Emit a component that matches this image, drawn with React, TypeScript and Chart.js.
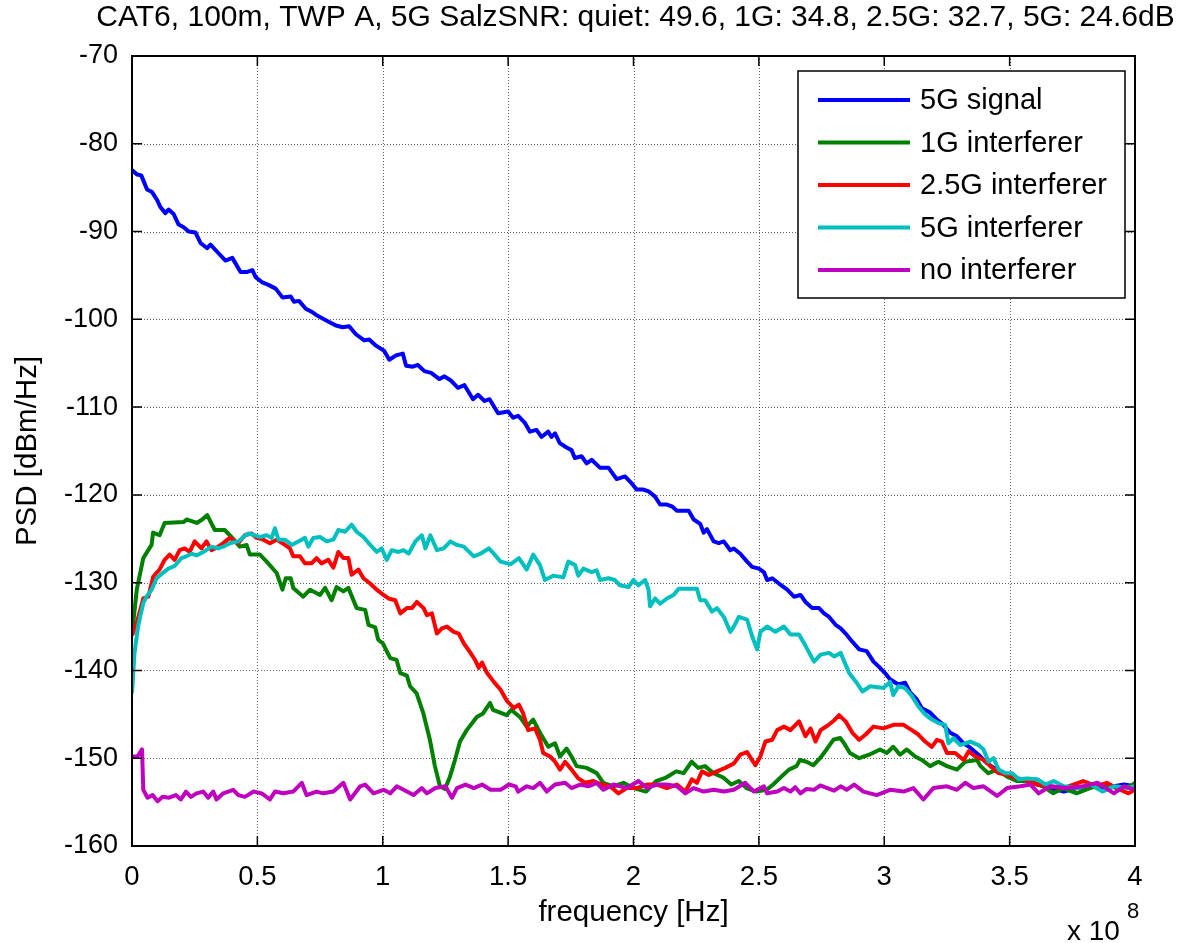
import { useEffect, useRef } from "react";
import { Chart, registerables } from "chart.js";

Chart.register(...registerables);

const WIDTH = 1182;
const HEIGHT = 943;
const FONT = "'Liberation Sans', Arial, Helvetica, sans-serif";

const titleText =
  "CAT6, 100m, TWP A, 5G SalzSNR: quiet: 49.6, 1G: 34.8, 2.5G: 32.7, 5G: 24.6dB";
const xAxisLabel = "frequency [Hz]";
const yAxisLabel = "PSD [dBm/Hz]";
const xExponent = "8";

// axis limits and tick steps (frequency in units of 1e8 Hz)
const xRange = [0, 4];
const xStep = 0.5;
const yRange = [-160, -70];
const yStep = 10;

const seriesLabels = ["5G signal", "1G interferer", "2.5G interferer", "5G interferer", "no interferer"];
const seriesColors = ["#0000ff", "#008000", "#ff0000", "#00bfbf", "#bf00bf"];

// 5G signal
const signalFreq = [
  0.0, 0.02, 0.037, 0.06, 0.08, 0.1, 0.113, 0.133, 0.146, 0.166, 0.186, 0.206, 0.226, 0.253, 0.273, 0.3,
  0.313, 0.346, 0.373, 0.4, 0.433, 0.46, 0.48, 0.493, 0.52, 0.546, 0.573, 0.6, 0.633, 0.646, 0.666, 0.693,
  0.72, 0.74, 0.773, 0.813, 0.84, 0.866, 0.893, 0.926, 0.946, 0.973, 1.006, 1.026, 1.053, 1.08, 1.093, 1.12,
  1.14, 1.166, 1.193, 1.226, 1.246, 1.273, 1.3, 1.326, 1.36, 1.38, 1.406, 1.426, 1.46, 1.5, 1.52, 1.54,
  1.567, 1.587, 1.613, 1.633, 1.66, 1.673, 1.687, 1.706, 1.733, 1.753, 1.766, 1.793, 1.813, 1.833, 1.866, 1.9,
  1.933, 1.966, 1.993, 2.013, 2.04, 2.06, 2.086, 2.106, 2.133, 2.153, 2.173, 2.2, 2.22, 2.24, 2.266, 2.28,
  2.293, 2.32, 2.34, 2.36, 2.386, 2.4, 2.426, 2.453, 2.473, 2.5, 2.52, 2.533, 2.553, 2.58, 2.613, 2.64,
  2.666, 2.686, 2.713, 2.74, 2.76, 2.78, 2.806, 2.826, 2.846, 2.866, 2.9, 2.93, 2.957, 2.983, 3.003, 3.023,
  3.056, 3.083, 3.103, 3.13, 3.15, 3.183, 3.21, 3.236, 3.263, 3.29, 3.316, 3.343, 3.376, 3.403, 3.436, 3.476,
  3.516, 3.556, 3.61, 3.663, 3.716, 3.77, 3.823, 3.876, 3.956, 4.0,
];
const signalPsd = [
  -83.0, -83.5, -83.6, -85.2, -85.5, -86.4, -87.2, -87.9, -87.5, -88.0, -89.2, -89.5, -90.0, -90.1, -91.3, -91.9,
  -91.5, -92.5, -93.3, -93.0, -94.6, -94.6, -94.4, -95.2, -95.8, -96.1, -96.5, -97.5, -97.4, -98.0, -97.9, -98.8,
  -99.2, -99.6, -100.1, -100.7, -100.9, -100.8, -101.7, -102.4, -102.3, -103.0, -103.6, -104.6, -104.1, -103.9, -105.3, -105.4,
  -105.2, -105.9, -106.1, -106.8, -106.5, -107.0, -107.8, -107.5, -109.1, -108.6, -109.3, -109.1, -110.7, -110.5, -111.2, -111.0,
  -111.8, -112.8, -112.6, -113.4, -112.8, -113.4, -113.0, -114.1, -114.6, -114.9, -115.8, -115.6, -116.4, -116.0, -116.9, -116.9,
  -118.2, -117.9, -118.7, -119.4, -119.4, -119.6, -120.2, -121.1, -121.1, -121.3, -121.8, -121.8, -121.8, -122.8, -123.3, -124.3,
  -123.9, -125.3, -125.5, -125.3, -126.3, -126.1, -126.7, -127.6, -128.2, -128.4, -128.8, -129.7, -129.5, -130.1, -130.8, -131.6,
  -131.4, -132.2, -132.9, -132.9, -133.5, -133.9, -134.8, -135.2, -135.8, -136.5, -137.6, -137.8, -139.0, -139.7, -140.3, -141.0,
  -141.6, -141.4, -142.5, -143.3, -144.3, -144.8, -145.6, -146.2, -147.1, -147.5, -148.3, -148.8, -149.6, -150.4, -151.1, -151.7,
  -152.3, -152.4, -153.0, -153.4, -153.8, -153.4, -153.2, -153.4, -153.0, -153.2,
];

// 1G interferer
const gig1Freq = [
  0.0, 0.019, 0.045, 0.078, 0.084, 0.11, 0.13, 0.205, 0.218, 0.258, 0.28, 0.3, 0.33, 0.37, 0.4, 0.43,
  0.457, 0.47, 0.51, 0.537, 0.577, 0.6, 0.613, 0.633, 0.643, 0.683, 0.71, 0.75, 0.77, 0.796, 0.816, 0.843,
  0.863, 0.896, 0.93, 0.943, 0.97, 0.982, 1.0, 1.03, 1.055, 1.07, 1.096, 1.109, 1.135, 1.162, 1.188, 1.208,
  1.228, 1.248, 1.268, 1.288, 1.308, 1.335, 1.375, 1.4, 1.428, 1.44, 1.494, 1.513, 1.547, 1.574, 1.6, 1.627,
  1.66, 1.687, 1.707, 1.733, 1.753, 1.773, 1.813, 1.853, 1.88, 1.92, 1.96, 2.0, 2.05, 2.09, 2.13, 2.17,
  2.2, 2.232, 2.258, 2.285, 2.318, 2.358, 2.39, 2.42, 2.45, 2.49, 2.53, 2.557, 2.597, 2.62, 2.65, 2.664,
  2.69, 2.717, 2.744, 2.77, 2.797, 2.824, 2.84, 2.863, 2.9, 2.94, 2.983, 3.01, 3.036, 3.063, 3.09, 3.123,
  3.15, 3.183, 3.216, 3.25, 3.29, 3.323, 3.37, 3.384, 3.415, 3.45, 3.49, 3.53, 3.583, 3.634, 3.674, 3.714,
  3.767, 3.82, 3.874, 3.927, 3.98, 4.0,
];
const gig1Psd = [
  -135.9, -130.8, -127.2, -125.7, -124.3, -124.6, -123.2, -123.1, -122.8, -123.2, -122.8, -122.3, -124.0, -124.0, -124.9, -125.9,
  -125.7, -126.8, -126.8, -127.6, -128.9, -130.8, -129.5, -129.5, -130.6, -131.6, -130.8, -131.4, -130.6, -132.0, -130.5, -131.0,
  -130.6, -132.9, -133.1, -134.8, -135.1, -136.5, -136.9, -138.6, -138.8, -140.3, -140.6, -141.8, -142.6, -144.9, -147.9, -150.9,
  -153.2, -153.5, -152.1, -150.2, -148.1, -146.8, -145.3, -144.9, -143.7, -144.5, -145.1, -144.5, -145.3, -146.4, -145.6, -147.1,
  -148.7, -148.3, -149.8, -148.9, -149.8, -150.9, -151.1, -151.7, -152.8, -153.2, -152.8, -153.4, -153.8, -152.6, -152.2, -151.5,
  -151.7, -150.4, -151.1, -150.9, -151.7, -152.2, -153.0, -152.6, -153.4, -153.8, -153.6, -153.0, -151.9, -151.3, -150.9, -150.2,
  -150.4, -150.8, -150.0, -149.0, -147.9, -147.7, -148.3, -149.4, -150.0, -149.6, -149.0, -149.4, -148.7, -149.6, -149.0, -149.8,
  -150.2, -150.9, -150.4, -150.9, -151.3, -150.4, -150.2, -150.9, -151.7, -151.3, -152.1, -152.6, -152.6, -153.2, -154.0, -153.4,
  -154.0, -153.4, -153.0, -153.4, -153.2, -152.8,
];

// 2.5G interferer
const gig25Freq = [
  0.0, 0.019, 0.045, 0.065, 0.085, 0.11, 0.13, 0.15, 0.17, 0.19, 0.21, 0.23, 0.25, 0.277, 0.297, 0.317,
  0.344, 0.364, 0.39, 0.424, 0.45, 0.477, 0.497, 0.524, 0.55, 0.577, 0.61, 0.63, 0.643, 0.67, 0.69, 0.716,
  0.736, 0.756, 0.783, 0.803, 0.823, 0.843, 0.863, 0.876, 0.903, 0.923, 0.95, 0.976, 1.003, 1.023, 1.05, 1.07,
  1.096, 1.116, 1.136, 1.163, 1.176, 1.196, 1.216, 1.236, 1.256, 1.283, 1.303, 1.323, 1.35, 1.37, 1.383, 1.396,
  1.416, 1.443, 1.47, 1.496, 1.523, 1.543, 1.56, 1.58, 1.607, 1.627, 1.64, 1.667, 1.687, 1.707, 1.727, 1.753,
  1.78, 1.807, 1.84, 1.873, 1.906, 1.94, 1.973, 2.013, 2.053, 2.093, 2.133, 2.173, 2.207, 2.233, 2.253, 2.273,
  2.3, 2.333, 2.366, 2.4, 2.426, 2.453, 2.486, 2.506, 2.526, 2.553, 2.573, 2.6, 2.626, 2.66, 2.686, 2.706,
  2.726, 2.746, 2.773, 2.8, 2.82, 2.846, 2.873, 2.9, 2.926, 2.957, 2.997, 3.037, 3.077, 3.11, 3.136, 3.163,
  3.19, 3.21, 3.23, 3.25, 3.283, 3.317, 3.337, 3.363, 3.397, 3.423, 3.456, 3.49, 3.53, 3.556, 3.61, 3.66,
  3.714, 3.794, 3.847, 3.887, 3.927, 3.974, 4.0,
];
const gig25Psd = [
  -136.0, -134.6, -131.8, -131.6, -129.3, -128.5, -127.4, -126.8, -127.4, -126.3, -126.1, -126.5, -125.3, -126.1, -125.3, -126.3,
  -125.9, -125.5, -124.9, -125.5, -124.6, -124.4, -124.9, -125.1, -125.5, -125.1, -125.7, -126.1, -127.0, -127.0, -127.8, -127.8,
  -127.2, -127.8, -127.4, -128.3, -126.5, -127.2, -127.2, -129.1, -128.5, -129.5, -130.1, -130.8, -131.4, -131.8, -132.0, -133.5,
  -132.9, -132.9, -132.2, -132.9, -133.7, -133.5, -135.8, -135.2, -135.0, -135.6, -135.8, -136.9, -138.0, -138.9, -139.7, -139.1,
  -140.3, -141.3, -142.2, -143.5, -144.3, -143.9, -144.9, -146.8, -146.6, -147.9, -149.4, -149.8, -150.4, -151.3, -150.4, -151.3,
  -152.3, -152.8, -152.6, -153.0, -153.2, -154.0, -153.4, -153.4, -153.0, -153.0, -153.4, -153.0, -153.8, -152.4, -152.8, -151.5,
  -151.9, -151.5, -151.1, -150.6, -149.6, -149.3, -150.8, -149.8, -148.1, -147.9, -146.8, -146.4, -146.8, -145.8, -147.5, -146.6,
  -148.1, -146.8, -146.3, -145.7, -145.1, -145.8, -147.1, -147.9, -147.3, -146.4, -146.6, -146.2, -146.2, -146.8, -147.3, -148.1,
  -148.7, -147.9, -148.1, -149.4, -149.4, -150.2, -149.2, -149.8, -150.2, -150.9, -151.7, -151.9, -152.3, -152.4, -153.0, -153.2,
  -153.4, -152.6, -153.2, -152.8, -153.4, -154.0, -153.6,
];

// 5G interferer
const gig5Freq = [
  0.0, 0.01, 0.024, 0.045, 0.058, 0.078, 0.098, 0.118, 0.145, 0.17, 0.197, 0.217, 0.237, 0.257, 0.284, 0.317,
  0.344, 0.364, 0.39, 0.424, 0.444, 0.464, 0.49, 0.51, 0.537, 0.557, 0.57, 0.584, 0.61, 0.637, 0.663, 0.69,
  0.703, 0.723, 0.75, 0.776, 0.803, 0.823, 0.85, 0.876, 0.896, 0.923, 0.95, 0.976, 0.996, 1.016, 1.036, 1.063,
  1.083, 1.103, 1.13, 1.156, 1.17, 1.19, 1.216, 1.243, 1.27, 1.296, 1.323, 1.363, 1.39, 1.423, 1.443, 1.47,
  1.51, 1.543, 1.574, 1.6, 1.627, 1.647, 1.68, 1.72, 1.74, 1.767, 1.78, 1.8, 1.833, 1.853, 1.867, 1.9,
  1.926, 1.946, 1.98, 2.0, 2.02, 2.046, 2.06, 2.066, 2.086, 2.106, 2.133, 2.16, 2.18, 2.213, 2.253, 2.266,
  2.286, 2.313, 2.333, 2.36, 2.386, 2.4, 2.42, 2.453, 2.473, 2.493, 2.506, 2.533, 2.566, 2.6, 2.626, 2.66,
  2.686, 2.72, 2.746, 2.78, 2.8, 2.826, 2.86, 2.89, 2.913, 2.944, 2.997, 3.023, 3.036, 3.056, 3.083, 3.11,
  3.136, 3.163, 3.19, 3.216, 3.243, 3.256, 3.276, 3.303, 3.343, 3.376, 3.396, 3.416, 3.436, 3.456, 3.483, 3.51,
  3.536, 3.57, 3.61, 3.643, 3.676, 3.716, 3.77, 3.823, 3.87, 3.916, 3.97, 4.0,
];
const gig5Psd = [
  -142.6, -138.0, -135.0, -132.3, -131.6, -130.8, -129.5, -129.0, -128.4, -128.1, -127.2, -127.0, -126.7, -126.9, -126.5, -125.9,
  -126.1, -125.9, -125.5, -125.3, -124.8, -124.4, -124.6, -124.8, -124.6, -124.9, -123.8, -125.1, -125.1, -125.7, -125.3, -124.9,
  -125.9, -124.9, -124.8, -125.3, -125.1, -124.0, -124.2, -123.4, -124.2, -124.8, -125.7, -126.5, -126.1, -127.4, -126.3, -126.5,
  -126.3, -126.7, -125.3, -124.6, -126.1, -124.6, -126.3, -126.1, -125.3, -125.7, -125.9, -127.0, -126.7, -126.1, -126.7, -127.6,
  -127.9, -127.2, -128.5, -126.8, -128.0, -129.7, -129.2, -129.4, -127.6, -128.0, -129.2, -128.4, -128.8, -128.6, -129.7, -129.5,
  -129.7, -130.3, -130.5, -129.7, -130.3, -129.7, -130.8, -132.7, -131.8, -132.4, -131.8, -131.4, -130.7, -130.7, -130.7, -132.0,
  -132.0, -133.3, -132.9, -133.9, -135.6, -135.0, -133.9, -134.2, -136.1, -137.6, -135.6, -135.0, -135.6, -135.0, -135.9, -135.9,
  -137.2, -139.0, -138.2, -138.0, -138.4, -138.0, -140.3, -141.4, -142.4, -141.8, -142.0, -141.3, -142.8, -141.8, -142.0, -142.9,
  -144.1, -145.0, -145.6, -146.0, -146.2, -148.3, -147.7, -148.5, -148.1, -148.5, -149.0, -150.4, -150.0, -151.3, -151.7, -151.7,
  -152.4, -152.3, -152.4, -153.0, -152.6, -153.2, -153.4, -153.0, -153.8, -153.2, -153.4, -153.2,
];

// no interferer
const quietFreq = [
  0.0, 0.022, 0.04, 0.045, 0.062, 0.082, 0.102, 0.122, 0.148, 0.175, 0.195, 0.215, 0.235, 0.257, 0.284, 0.304,
  0.324, 0.337, 0.364, 0.404, 0.424, 0.45, 0.484, 0.517, 0.55, 0.57, 0.604, 0.643, 0.677, 0.696, 0.736, 0.763,
  0.803, 0.843, 0.87, 0.91, 0.93, 0.963, 1.003, 1.03, 1.056, 1.083, 1.123, 1.156, 1.176, 1.21, 1.25, 1.276,
  1.296, 1.33, 1.363, 1.396, 1.43, 1.47, 1.503, 1.53, 1.54, 1.574, 1.6, 1.627, 1.654, 1.687, 1.727, 1.753,
  1.787, 1.82, 1.853, 1.88, 1.92, 1.973, 2.02, 2.053, 2.093, 2.133, 2.173, 2.207, 2.24, 2.28, 2.32, 2.36,
  2.4, 2.446, 2.48, 2.52, 2.533, 2.573, 2.6, 2.626, 2.645, 2.666, 2.69, 2.72, 2.745, 2.773, 2.8, 2.826,
  2.85, 2.88, 2.917, 2.97, 3.023, 3.077,
  3.116, 3.156, 3.196, 3.25, 3.29, 3.323, 3.356, 3.396, 3.45, 3.49, 3.543, 3.583, 3.616, 3.663, 3.73, 3.796,
  3.85, 3.916, 3.956, 4.0,
];
const quietPsd = [
  -149.8, -149.8, -149.0, -153.6, -154.5, -154.2, -154.9, -154.4, -154.5, -154.2, -154.7, -153.8, -154.4, -154.0, -153.8, -154.5,
  -153.8, -154.7, -154.0, -153.6, -154.2, -154.4, -153.8, -154.0, -154.7, -153.8, -154.0, -153.8, -152.8, -154.2, -153.8, -154.0,
  -153.8, -152.8, -154.7, -153.2, -153.0, -154.0, -153.6, -154.0, -153.2, -153.6, -154.2, -153.4, -154.0, -153.4, -153.2, -154.5,
  -153.4, -153.0, -153.4, -153.0, -153.6, -153.6, -153.0, -153.2, -153.8, -153.2, -153.4, -152.8, -153.8, -153.0, -152.8, -153.4,
  -153.0, -153.2, -152.8, -153.6, -153.0, -153.4, -152.6, -153.4, -153.0, -153.0, -153.2, -154.0, -153.4, -153.8, -153.6, -153.8,
  -153.6, -152.8, -153.8, -153.2, -154.0, -153.8, -153.4, -153.8, -153.3, -154.0, -153.5, -153.6, -153.1, -153.4, -153.7, -153.2,
  -153.6, -153.0, -153.8, -154.2, -153.6, -153.8,
  -153.4, -154.7, -153.4, -153.2, -153.6, -152.8, -153.4, -153.2, -154.3, -153.4, -153.2, -153.0, -154.0, -153.2, -153.4, -153.2,
  -152.8, -154.0, -153.2, -153.6,
];

const seriesFreq = [signalFreq, gig1Freq, gig25Freq, gig5Freq, quietFreq];
const seriesPsd = [signalPsd, gig1Psd, gig25Psd, gig5Psd, quietPsd];

function toPoints(xs: number[], ys: number[]) {
  return xs.map((x, i) => ({ x, y: ys[i] }));
}

// title centred over the plot box, allowed to run wider than it
const titlePlugin = {
  id: "plotTitle",
  afterDraw(chart: any) {
    const { ctx, chartArea: a } = chart;
    ctx.save();
    ctx.fillStyle = "#000";
    ctx.font = `30px ${FONT}`;
    ctx.textAlign = "center";
    ctx.textBaseline = "middle";
    ctx.fillText(titleText, (a.left + a.right) / 2 + 2, 18);
    ctx.restore();
  },
};

// dotted grid at the interior ticks, drawn under the curves
const gridPlugin = {
  id: "dottedGrid",
  beforeDatasetsDraw(chart: any) {
    const { ctx, chartArea: a, scales } = chart;
    const xs = scales.x;
    const ys = scales.y;
    ctx.save();
    ctx.strokeStyle = "rgba(0,0,0,0.62)";
    ctx.lineWidth = 1;
    ctx.setLineDash([1, 2]);
    for (const t of xs.ticks) {
      const px = Math.round(xs.getPixelForValue(t.value)) + 0.5;
      if (px < a.left + 2 || px > a.right - 2) continue;
      ctx.beginPath();
      ctx.moveTo(px, a.top);
      ctx.lineTo(px, a.bottom);
      ctx.stroke();
    }
    for (const t of ys.ticks) {
      const py = Math.round(ys.getPixelForValue(t.value)) + 0.5;
      if (py < a.top + 2 || py > a.bottom - 2) continue;
      ctx.beginPath();
      ctx.moveTo(a.left, py);
      ctx.lineTo(a.right, py);
      ctx.stroke();
    }
    ctx.restore();
  },
};

// boxed axes with inward tick marks on all four sides
const framePlugin = {
  id: "boxFrame",
  afterDatasetsDraw(chart: any) {
    const { ctx, chartArea: a, scales } = chart;
    const xs = scales.x;
    const ys = scales.y;
    const len = 10;
    ctx.save();
    ctx.strokeStyle = "#000";
    ctx.lineWidth = 1.5;
    ctx.setLineDash([]);
    for (const t of xs.ticks) {
      const px = xs.getPixelForValue(t.value);
      ctx.beginPath();
      ctx.moveTo(px, a.bottom);
      ctx.lineTo(px, a.bottom - len);
      ctx.moveTo(px, a.top);
      ctx.lineTo(px, a.top + len);
      ctx.stroke();
    }
    for (const t of ys.ticks) {
      const py = ys.getPixelForValue(t.value);
      ctx.beginPath();
      ctx.moveTo(a.left, py);
      ctx.lineTo(a.left + len, py);
      ctx.moveTo(a.right, py);
      ctx.lineTo(a.right - len, py);
      ctx.stroke();
    }
    ctx.lineWidth = 2;
    ctx.strokeRect(a.left, a.top, a.right - a.left, a.bottom - a.top);
    ctx.restore();
  },
};

// boxed legend in the upper right corner of the plot
const legendPlugin = {
  id: "boxLegend",
  afterDraw(chart: any) {
    const { ctx, chartArea: a } = chart;
    const boxW = 327;
    const boxH = 227;
    const left = a.right - 337;
    const top = a.top + 15;
    ctx.save();
    ctx.fillStyle = "#fff";
    ctx.fillRect(left, top, boxW, boxH);
    ctx.strokeStyle = "#000";
    ctx.lineWidth = 1.5;
    ctx.strokeRect(left, top, boxW, boxH);
    ctx.font = `29px ${FONT}`;
    ctx.textBaseline = "middle";
    ctx.textAlign = "left";
    chart.data.datasets.forEach((ds: any, i: number) => {
      const y = top + 29 + i * 42.5;
      ctx.strokeStyle = ds.borderColor;
      ctx.lineWidth = 4;
      ctx.beginPath();
      ctx.moveTo(left + 20, y);
      ctx.lineTo(left + 112, y);
      ctx.stroke();
      ctx.fillStyle = "#000";
      ctx.fillText(ds.label, left + 122, y + 1);
    });
    ctx.restore();
  },
};

// "x 10^8" multiplier under the right end of the frequency axis
const exponentPlugin = {
  id: "axisExponent",
  afterDraw(chart: any) {
    const { ctx, chartArea: a } = chart;
    ctx.save();
    ctx.fillStyle = "#000";
    ctx.textBaseline = "middle";
    ctx.textAlign = "left";
    ctx.font = `28px ${FONT}`;
    ctx.fillText("x 10", a.right - 68, a.bottom + 86);
    ctx.font = `22px ${FONT}`;
    ctx.fillText(xExponent, a.right - 8, a.bottom + 66);
    ctx.restore();
  },
};

export default function App() {
  const canvasRef = useRef<HTMLCanvasElement | null>(null);

  useEffect(() => {
    if (!canvasRef.current) return;
    const datasets = seriesLabels.map((label, i) => ({
      label,
      data: toPoints(seriesFreq[i], seriesPsd[i]),
      borderColor: seriesColors[i],
      backgroundColor: seriesColors[i],
      borderWidth: 4,
      pointRadius: 0,
      tension: 0,
      fill: false,
      borderJoinStyle: "round" as const,
      order: seriesLabels.length - i,
    }));

    const chart = new Chart(canvasRef.current, {
      type: "line",
      data: { datasets },
      options: {
        animation: false,
        responsive: false,
        maintainAspectRatio: false,
        layout: { padding: { left: 0, right: 47, top: 56, bottom: 0 } },
        plugins: {
          legend: { display: false },
          tooltip: { enabled: false },
          title: { display: false },
        },
        scales: {
          x: {
            type: "linear",
            min: xRange[0],
            max: xRange[1],
            afterFit: (scale: any) => {
              scale.height = 97;
            },
            ticks: {
              stepSize: xStep,
              color: "#000",
              padding: 15,
              maxRotation: 0,
              font: { family: FONT, size: 27.5 },
              callback: (v: any) => String(Number(v)),
            },
            grid: { display: false, drawTicks: false },
            border: { display: false },
            title: {
              display: true,
              text: xAxisLabel,
              color: "#000",
              font: { family: FONT, size: 29.5, lineHeight: 1.2 },
              padding: { top: 0, bottom: 12 },
            },
          },
          y: {
            type: "linear",
            min: yRange[0],
            max: yRange[1],
            afterFit: (scale: any) => {
              scale.width = 132;
            },
            ticks: {
              stepSize: yStep,
              color: "#000",
              padding: 14,
              font: { family: FONT, size: 27 },
            },
            grid: { display: false, drawTicks: false },
            border: { display: false },
            title: {
              display: true,
              text: yAxisLabel,
              color: "#000",
              font: { family: FONT, size: 29.5, lineHeight: 1.2 },
              padding: { top: 10, bottom: 0 },
            },
          },
        },
      },
      plugins: [gridPlugin, framePlugin, legendPlugin, exponentPlugin, titlePlugin],
    });
    return () => chart.destroy();
  }, []);

  return (
    <div style={{ position: "absolute", left: 0, top: 0, width: WIDTH, height: HEIGHT, background: "#fff" }}>
      <canvas ref={canvasRef} width={WIDTH} height={HEIGHT} style={{ width: WIDTH, height: HEIGHT }} />
    </div>
  );
}
